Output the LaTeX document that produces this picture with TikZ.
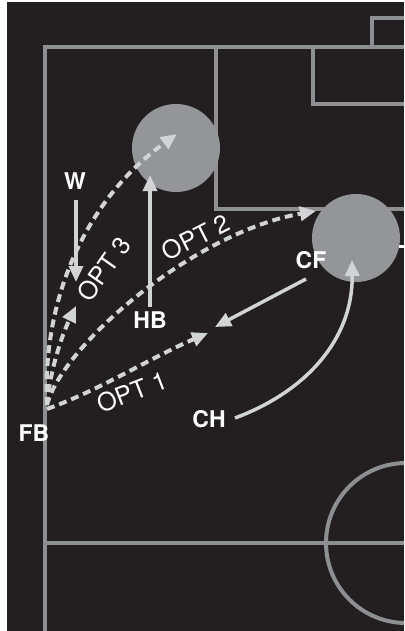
\documentclass[tikz,border=0pt]{standalone}
\usepackage{fontspec}
\setmainfont{TeX Gyre Heros}
\usetikzlibrary{arrows.meta}
\definecolor{pitch}{HTML}{231F20}
\definecolor{lineg}{HTML}{8E8F92}
\definecolor{ballg}{HTML}{939598}
\definecolor{arrowg}{HTML}{D1D3D4}
\tikzset{
  fieldline/.style={draw=lineg, line width=4pt},
  ball/.style={fill=ballg},
  solidarrow/.style={draw=arrowg, line width=3.5pt, -{Triangle[length=16pt,width=14pt]}},
  dasharrow/.style={draw=arrowg, line width=4pt, dash pattern=on 8pt off 5pt, -{Triangle[length=16pt,width=14pt]}},
  player/.style={text=white, font=\fontsize{23}{23}\selectfont\bfseries, inner sep=0pt},
  optlabel/.style={text=white, font=\fontsize{25}{25}\selectfont, inner sep=0pt}
}
\begin{document}
\begin{tikzpicture}[x=1pt,y=-1pt]
\useasboundingbox (0,0) rectangle (404,631);
\fill[white] (0,0) rectangle (404,631);
\fill[pitch] (7,2) rectangle (404,631);
\begin{scope}
\clip (7,2) rectangle (404,631);
% field lines
\draw[fieldline] (45,640) -- (45,47) -- (410,47);
\draw[fieldline] (216,47) -- (216,209) -- (410,209);
\draw[fieldline] (313,47) -- (313,104) -- (410,104);
\draw[fieldline] (372,47) -- (372,18) -- (410,18);
\draw[fieldline] (45,543) -- (410,543);
\draw[fieldline] (406,543) circle[radius=80];
% balls / zones
\fill[ball] (176,148) circle[radius=44];
\fill[ball] (356,238) circle[radius=44];
\draw[white, line width=3pt] (399,246.5) -- (410,246.5);
\end{scope}
% coordinates
\coordinate (fb1) at (47,409);
\coordinate (fb2) at (47,405);
\coordinate (o1) at (208,333);
\coordinate (o2) at (316,211);
\coordinate (o3) at (76,306);
\coordinate (o4) at (177,134);
\coordinate (ws) at (76,200);
\coordinate (we) at (76,282);
\coordinate (hs) at (150,307);
\coordinate (he) at (150,175);
\coordinate (cs) at (306,279);
\coordinate (ce) at (215,327);
\coordinate (chs) at (235,418);
\coordinate (che) at (352,260);
% labels
\node[player] (W) at (75,181) {W};
\node[player] (HB) at (150,320) {HB};
\node[player] (CF) at (311,260) {CF};
\node[player] (CH) at (209,419) {CH};
\node[player] (FB) at (34,433) {FB};
\node[optlabel, rotate=55] (opt3) at (104,269) {OPT 3};
\node[optlabel, rotate=27] (opt2) at (196,237) {OPT 2};
\node[optlabel, rotate=21] (opt1) at (132,392) {OPT 1};
% solid arrows
\draw[solidarrow] (ws) -- (we);
\draw[solidarrow] (hs) -- (he);
\draw[solidarrow] (cs) -- (ce);
\draw[solidarrow] (chs) .. controls (305,392) and (353,340) .. (che);
% dashed arrows
\draw[dasharrow] (fb1) .. controls (100,390) and (150,358) .. (o1);
\draw[dasharrow] (fb2) .. controls (62,345) and (195,232) .. (o2);
\draw[dasharrow] (fb2) .. controls (50,370) and (62,335) .. (o3);
\draw[dasharrow] (fb2) .. controls (42,300) and (85,200) .. (o4);
\end{tikzpicture}
\end{document}
